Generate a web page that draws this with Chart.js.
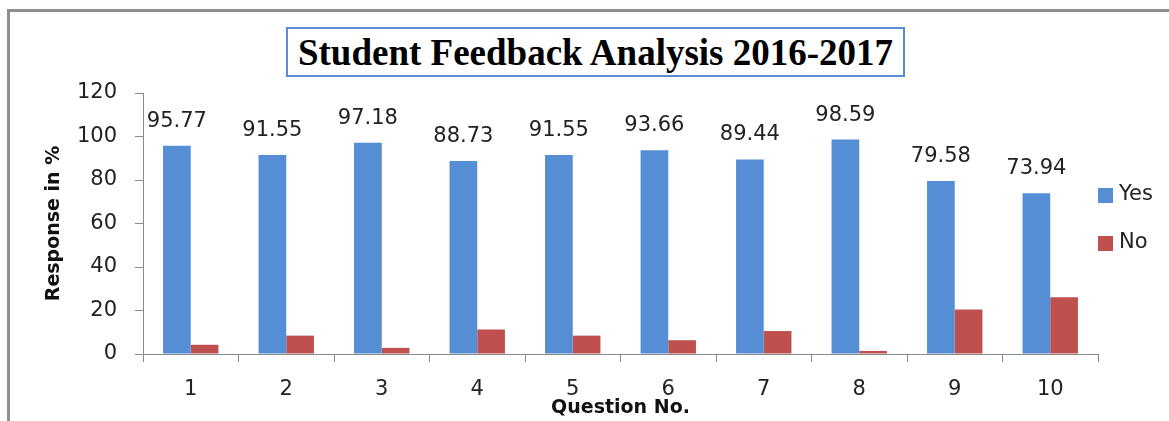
<!DOCTYPE html>
<html>
<head>
<meta charset="utf-8">
<script src="https://cdn.jsdelivr.net/npm/chart.js@4"></script>
<style>
  html, body { margin: 0; padding: 0; background: #fff; }
  #wrap { position: relative; width: 1169px; height: 421px; overflow: hidden; }
  #frame {
    position: absolute; left: 7px; top: 9px; width: 1300px; height: 500px;
    border-left: 3px solid #8f8f8f; border-top: 3px solid #8f8f8f;
  }
  #title {
    position: absolute; left: 286px; top: 27px; width: 615px; height: 46px;
    border: 2px solid #5b8bd0; background: #fff;
    font: bold 37px "Liberation Serif", "Times New Roman", serif; color: #000;
    text-align: center; line-height: 48px; white-space: nowrap;
  }
  .legend-item {
    position: absolute; left: 1098px; height: 20px;
    font: 21px "DejaVu Sans", sans-serif; color: #222; white-space: nowrap;
  }
  .legend-dot {
    position: absolute; left: 0; top: 2px; width: 15px; height: 15px;
  }
  .legend-text { position: absolute; left: 21px; top: -5px; }
  #chart { position: absolute; left: 0; top: 0; }
</style>
</head>
<body>
<div id="wrap">
  <div id="frame"></div>
  <canvas id="chart" width="1169" height="421"></canvas>
  <div id="title">Student Feedback Analysis 2016-2017</div>
  <div id="legend"></div>
</div>
<script>
// ── Data ───────────────────────────────────────
const questions = ['1', '2', '3', '4', '5', '6', '7', '8', '9', '10'];
const yesValues = [95.77, 91.55, 97.18, 88.73, 91.55, 93.66, 89.44, 98.59, 79.58, 73.94];
const noValues  = [4.23, 8.45, 2.82, 11.27, 8.45, 6.34, 10.56, 1.41, 20.42, 26.06];
const seriesNames = ['Yes', 'No'];
const yTicks = [0, 20, 40, 60, 80, 100, 120];

const COLORS = ['#558ed5', '#c0504d'];
const AXIS = '#8a8a8a';
const FONT = '"DejaVu Sans", sans-serif';

// legend, built by hand like the original's right-hand key
document.getElementById('legend').innerHTML = seriesNames
  .map((l, i) => `<span class="legend-item" style="top:${186 + i * 48}px"><span class="legend-dot" style="background:${COLORS[i]}"></span><span class="legend-text">${l}</span></span>`)
  .join('');

// value labels above the Yes bars
const barLabels = {
  id: 'barLabels',
  afterDatasetsDraw(chart) {
    const ctx = chart.ctx;
    const meta = chart.getDatasetMeta(0);
    ctx.save();
    ctx.font = `21px ${FONT}`;
    ctx.fillStyle = '#222';
    ctx.textAlign = 'center';
    ctx.textBaseline = 'alphabetic';
    meta.data.forEach((bar, i) => {
      ctx.fillText(yesValues[i].toFixed(2), bar.x, bar.y - 19);
    });
    ctx.restore();
  },
};

new Chart(document.getElementById('chart'), {
  type: 'bar',
  data: {
    labels: questions,
    datasets: [
      { label: seriesNames[0], data: yesValues, backgroundColor: COLORS[0], borderWidth: 0 },
      { label: seriesNames[1], data: noValues,  backgroundColor: COLORS[1], borderWidth: 0 },
    ],
  },
  options: {
    responsive: false,
    animation: false,
    datasets: { bar: { categoryPercentage: 0.58, barPercentage: 1 } },
    layout: { padding: { top: 93, right: 71, bottom: 0, left: 0 } },
    plugins: {
      legend: { display: false },
      title: { display: false },
      tooltip: { enabled: false },
    },
    scales: {
      x: {
        afterFit: s => { s.height = 67; },
        grid: { drawOnChartArea: false, drawTicks: true, tickLength: 8, color: AXIS },
        border: { color: AXIS, width: 1 },
        ticks: { color: '#222', font: { family: FONT, size: 21 }, padding: 15 },
        title: {
          display: true, text: 'Question No.', color: '#111',
          font: { family: FONT, size: 19, weight: 'bold' }, padding: { top: 0, bottom: 2 },
        },
      },
      y: {
        min: 0,
        max: 120,
        afterFit: s => { s.width = 143; },
        afterBuildTicks: s => { s.ticks = yTicks.map(v => ({ value: v })); },
        grid: { drawOnChartArea: false, drawTicks: true, tickLength: 8, color: AXIS },
        border: { color: AXIS, width: 1 },
        ticks: { color: '#222', font: { family: FONT, size: 21 }, padding: 18 },
        title: {
          display: true, text: 'Response in %', color: '#111',
          font: { family: FONT, size: 19, weight: 'bold' }, padding: { top: 43, bottom: 0 },
        },
      },
    },
  },
  plugins: [barLabels],
});
</script>
</body>
</html>
